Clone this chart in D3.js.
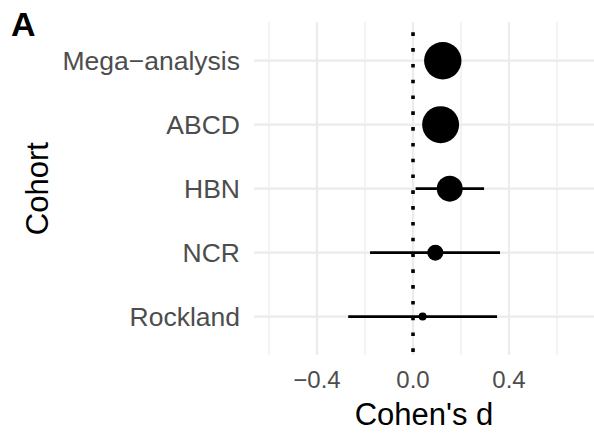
<!DOCTYPE html>
<html>
<head>
<meta charset="utf-8">
<script src="https://cdn.jsdelivr.net/npm/d3@7"></script>
<style>
  html, body { margin: 0; padding: 0; background: #fff; }
  svg { display: block; font-family: "Liberation Sans", Arial, Helvetica, sans-serif; }
</style>
</head>
<body>
<svg id="chart" width="594" height="433"></svg>
<script>
const cohorts = ["Mega\u2212analysis", "ABCD", "HBN", "NCR", "Rockland"];
const effect = [0.124, 0.115, 0.153, 0.093, 0.040];
const ciLower = [0.09, 0.08, 0.011, -0.179, -0.27];
const ciUpper = [0.16, 0.15, 0.296, 0.3625, 0.35];
const weight = [350, 342, 169, 64, 16];
const majorTicks = [-0.4, 0.0, 0.4, 0.8];
const minorTicks = [-0.6, -0.2, 0.2, 0.6];
const xDomain = [-0.6625, 0.754];

const W = 594, H = 433;
const panel = { left: 254, right: 594, top: 22.3, bottom: 355 };
const svg = d3.select("#chart");

const x = d3.scaleLinear().domain(xDomain).range([panel.left, panel.right]);
const y = d3.scalePoint().domain(cohorts).range([panel.top, panel.bottom]).padding(0.6);
const r = d3.scaleSqrt().domain([0, d3.max(weight)]).range([0, 18.7]);

const grid = svg.append("g");
// minor vertical
grid.selectAll(".vminor").data(minorTicks).join("line")
  .attr("x1", d => x(d)).attr("x2", d => x(d))
  .attr("y1", panel.top).attr("y2", panel.bottom)
  .attr("stroke", "#EBEBEB").attr("stroke-width", 1.2);
// major vertical
grid.selectAll(".vmajor").data(majorTicks).join("line")
  .attr("x1", d => x(d)).attr("x2", d => x(d))
  .attr("y1", panel.top).attr("y2", panel.bottom)
  .attr("stroke", "#EBEBEB").attr("stroke-width", 2.2);
// major horizontal
grid.selectAll(".hmajor").data(cohorts).join("line")
  .attr("x1", panel.left).attr("x2", panel.right)
  .attr("y1", d => y(d)).attr("y2", d => y(d))
  .attr("stroke", "#EBEBEB").attr("stroke-width", 2.2);

// reference line at 0
svg.append("line")
  .attr("x1", x(0)).attr("x2", x(0))
  .attr("y1", panel.top).attr("y2", panel.bottom)
  .attr("stroke", "#000").attr("stroke-width", 3.6)
  .attr("stroke-dasharray", "3.6 12.2")
  .attr("stroke-dashoffset", -10);

const rows = cohorts.map((c, i) => ({ c, d: effect[i], lo: ciLower[i], hi: ciUpper[i], w: weight[i] }));

// error bars
svg.append("g").selectAll("line").data(rows).join("line")
  .attr("x1", d => x(d.lo)).attr("x2", d => x(d.hi))
  .attr("y1", d => y(d.c)).attr("y2", d => y(d.c))
  .attr("stroke", "#000").attr("stroke-width", 2.6);

// points
svg.append("g").selectAll("circle").data(rows).join("circle")
  .attr("cx", d => x(d.d)).attr("cy", d => y(d.c))
  .attr("r", d => r(d.w)).attr("fill", "#000");

// x tick labels
svg.append("g").selectAll("text").data(majorTicks.filter(t => x(t) < panel.right - 10)).join("text")
  .attr("x", d => x(d)).attr("y", 388)
  .attr("text-anchor", "middle")
  .attr("font-size", 24).attr("fill", "#4D4D4D")
  .text(d => d3.format(".1f")(d).replace("-", "\u2212"));

// y tick labels
svg.append("g").selectAll("text").data(cohorts).join("text")
  .attr("x", 240).attr("y", d => y(d) + 9.5)
  .attr("text-anchor", "end")
  .attr("font-size", 26.5).attr("fill", "#4D4D4D")
  .text(d => d);

// axis titles
svg.append("text")
  .attr("x", (panel.left + panel.right) / 2).attr("y", 425)
  .attr("text-anchor", "middle").attr("font-size", 31).attr("fill", "#000")
  .text("Cohen's d");

svg.append("text")
  .attr("transform", `translate(47.5, ${(panel.top + panel.bottom) / 2}) rotate(-90)`)
  .attr("text-anchor", "middle").attr("font-size", 31).attr("fill", "#000")
  .text("Cohort");

// panel tag
svg.append("text")
  .attr("x", 11).attr("y", 35.5)
  .attr("font-size", 34).attr("font-weight", "bold").attr("fill", "#000")
  .text("A");
</script>
</body>
</html>
